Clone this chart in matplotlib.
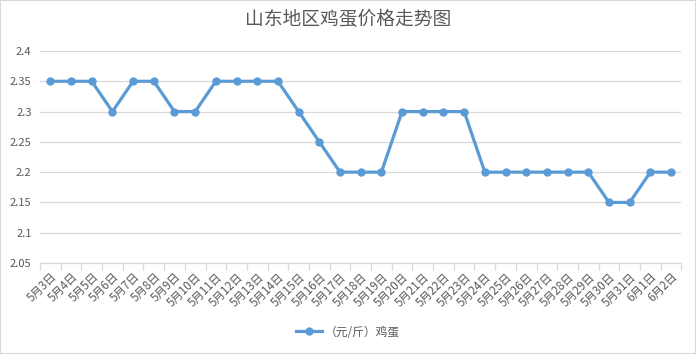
import numpy as np
import matplotlib.pyplot as plt
from matplotlib.patches import Rectangle

plt.rcParams['font.family'] = ['Noto Sans CJK SC', 'DejaVu Sans']

# dates and egg price (yuan / jin)
dates = ['5月3日', '5月4日', '5月5日', '5月6日', '5月7日', '5月8日', '5月9日', '5月10日',
         '5月11日', '5月12日', '5月13日', '5月14日', '5月15日', '5月16日', '5月17日',
         '5月18日', '5月19日', '5月20日', '5月21日', '5月22日', '5月23日', '5月24日',
         '5月25日', '5月26日', '5月27日', '5月28日', '5月29日', '5月30日', '5月31日',
         '6月1日', '6月2日']
prices = [2.35, 2.35, 2.35, 2.30, 2.35, 2.35, 2.30, 2.30, 2.35, 2.35, 2.35, 2.35, 2.30,
          2.25, 2.20, 2.20, 2.20, 2.30, 2.30, 2.30, 2.30, 2.20, 2.20, 2.20, 2.20, 2.20,
          2.20, 2.15, 2.15, 2.20, 2.20]
series_name = '（元/斤）鸡蛋'
yticks = [2.05, 2.1, 2.15, 2.2, 2.25, 2.3, 2.35, 2.4]

txt = '#595959'
grid = '#d9d9d9'
blue = '#5b9bd5'

fig = plt.figure(figsize=(6.96, 3.54), dpi=100)
ax = fig.add_axes([40 / 696, 1 - 263 / 354, 641.4 / 696, 212 / 354])

x = np.arange(len(dates))
ax.plot(x, prices, color=blue, lw=2.3, marker='o', ms=5, label=series_name,
        solid_joinstyle='round', zorder=3)

ax.set_xlim(-0.5, len(dates) - 0.5)
ax.set_ylim(2.05, 2.4)
ax.set_yticks(yticks)
ax.set_yticklabels([f'{v:g}' for v in yticks])
ax.grid(axis='y', color=grid, lw=0.9)
ax.set_axisbelow(True)

for s in ['top', 'right', 'left']:
    ax.spines[s].set_visible(False)
ax.spines['bottom'].set_color(grid)
ax.spines['bottom'].set_linewidth(0.9)

ax.set_xticks(x)
ax.set_xticklabels(dates, rotation=45, ha='right', rotation_mode='anchor',
                   fontsize=8.3, color=txt)
ax.tick_params(axis='x', which='major', length=0, pad=5)
ax.set_xticks(np.arange(-0.5, len(dates)), minor=True)
ax.tick_params(axis='x', which='minor', length=5, color=grid, width=0.9)
ax.tick_params(axis='y', length=0, labelsize=8, labelcolor=txt, pad=6)

fig.suptitle('山东地区鸡蛋价格走势图', x=0.5, y=0.975, fontsize=13.5, color=txt)

leg = fig.legend(loc='center', bbox_to_anchor=(0.5, 1 - 332 / 354), frameon=False,
                 fontsize=8.5, labelcolor=txt, handlelength=2.2, handletextpad=0.3)

fig.patches.append(Rectangle((0, 0), 1, 1, transform=fig.transFigure, fill=False,
                             edgecolor=grid, lw=1.5))

fig.savefig('out.png', dpi=100)
